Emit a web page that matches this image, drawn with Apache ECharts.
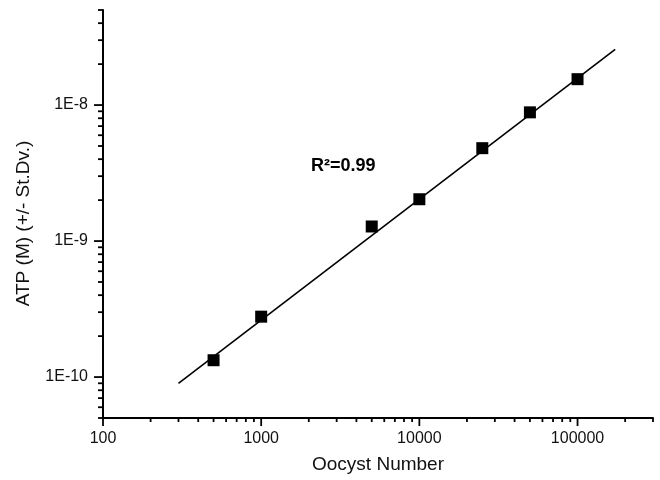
<!DOCTYPE html>
<html>
<head>
<meta charset="utf-8">
<script src="https://cdn.jsdelivr.net/npm/echarts@6/dist/echarts.min.js"></script>
<style>
  html, body { margin: 0; padding: 0; background: #fff; }
  #chart { width: 660px; height: 480px; }
</style>
</head>
<body>
<div id="chart"></div>
<script>
// ---- Data ----
const oocystNumbers = [500, 1000, 5000, 10000, 25000, 50000, 100000];
const atpValues = [1.33e-10, 2.78e-10, 1.28e-9, 2.03e-9, 4.82e-9, 8.84e-9, 1.55e-8];

// Fitted regression line (two end points)
const fitX = [300, 173000];
const fitY = [9.0e-11, 2.57e-8];

// Axis ranges
const xRange = [100, 300000];
const yRange = [5e-11, 5e-8];

// Tick values and labels
const xMajorTicks = [100, 1000, 10000, 100000];
const xTickLabels = ['100', '1000', '10000', '100000'];
const xMinorTicks = [200, 300, 400, 500, 600, 700, 800, 900,
                     2000, 3000, 4000, 5000, 6000, 7000, 8000, 9000,
                     20000, 30000, 40000, 50000, 60000, 70000, 80000, 90000,
                     200000, 300000];
const yMajorTicks = [1e-10, 1e-9, 1e-8];
const yTickLabels = ['1E-10', '1E-9', '1E-8'];
const yMinorTicks = [5e-11, 6e-11, 7e-11, 8e-11, 9e-11,
                     2e-10, 3e-10, 4e-10, 5e-10, 6e-10, 7e-10, 8e-10, 9e-10,
                     2e-9, 3e-9, 4e-9, 5e-9, 6e-9, 7e-9, 8e-9, 9e-9,
                     2e-8, 3e-8, 4e-8, 5e-8];

const xTitle = 'Oocyst Number';
const yTitle = 'ATP (M) (+/- St.Dv.)';
const annotation = 'R²=0.99';

// ---- Chart ----
const FONT = '"Liberation Sans", Arial, Helvetica, sans-serif';
const chart = echarts.init(document.getElementById('chart'), null, { renderer: 'canvas' });

function matchLabel(v, ticks, labels) {
  for (let i = 0; i < ticks.length; i++) {
    if (Math.abs(Math.log10(v) - Math.log10(ticks[i])) < 1e-6) return labels[i];
  }
  return '';
}

const tickItems = [];
xMajorTicks.forEach(v => tickItems.push([v, yRange[0], 'x', 8]));
xMinorTicks.forEach(v => tickItems.push([v, yRange[0], 'x', 4]));
yMajorTicks.forEach(v => tickItems.push([xRange[0], v, 'y', 9]));
yMinorTicks.forEach(v => tickItems.push([xRange[0], v, 'y', 5]));

const option = {
  animation: false,
  backgroundColor: '#ffffff',
  grid: { left: 103, right: 7, top: 10, bottom: 62, containLabel: false, outerBoundsMode: 'none' },
  xAxis: {
    type: 'log',
    logBase: 10,
    min: xRange[0],
    max: xRange[1],
    name: xTitle,
    nameLocation: 'middle',
    nameGap: 37,
    nameTextStyle: { fontFamily: FONT, fontSize: 19, color: '#111' },
    axisLine: { show: true, onZero: false, lineStyle: { color: '#000', width: 2 } },
    axisTick: { show: false },
    minorTick: { show: false },
    splitLine: { show: false },
    axisLabel: {
      margin: 13,
      fontFamily: FONT,
      fontSize: 16,
      color: '#111',
      showMinLabel: true,
      showMaxLabel: true,
      formatter: v => matchLabel(v, xMajorTicks, xTickLabels)
    }
  },
  yAxis: {
    type: 'log',
    logBase: 10,
    min: yRange[0],
    max: yRange[1],
    name: yTitle,
    nameLocation: 'middle',
    nameGap: 70,
    nameTextStyle: { fontFamily: FONT, fontSize: 19, color: '#111', padding: [0, 19, 0, 0] },
    axisLine: { show: true, onZero: false, lineStyle: { color: '#000', width: 2 } },
    axisTick: { show: false },
    minorTick: { show: false },
    splitLine: { show: false },
    axisLabel: {
      margin: 15,
      fontFamily: FONT,
      fontSize: 16,
      color: '#111',
      formatter: v => matchLabel(v, yMajorTicks, yTickLabels)
    }
  },
  series: [
    {
      type: 'line',
      data: fitX.map((x, i) => [x, fitY[i]]),
      showSymbol: false,
      symbol: 'none',
      lineStyle: { color: '#000', width: 1.6 },
      silent: true,
      z: 2
    },
    {
      type: 'scatter',
      data: oocystNumbers.map((x, i) => [x, atpValues[i]]),
      symbol: 'rect',
      symbolSize: 12,
      itemStyle: { color: '#000', opacity: 1 },
      silent: true,
      z: 3
    },
    {
      type: 'custom',
      clip: false,
      silent: true,
      data: tickItems,
      encode: { x: 0, y: 1 },
      renderItem: function (params, api) {
        const p = api.coord([api.value(0), api.value(1)]);
        const kind = tickItems[params.dataIndex][2];
        const len = tickItems[params.dataIndex][3];
        const shape = kind === 'x'
          ? { x1: p[0], y1: p[1], x2: p[0], y2: p[1] + len }
          : { x1: p[0] - len, y1: p[1], x2: p[0], y2: p[1] };
        return { type: 'line', shape: shape, style: { stroke: '#000', lineWidth: 1.8 } };
      },
      z: 4
    }
  ],
  graphic: [
    {
      type: 'text',
      left: 311,
      top: 157,
      style: {
        text: annotation,
        fontFamily: FONT,
        fontSize: 18,
        fontWeight: 'bold',
        fill: '#000'
      }
    }
  ]
};

chart.setOption(option);
</script>
</body>
</html>
